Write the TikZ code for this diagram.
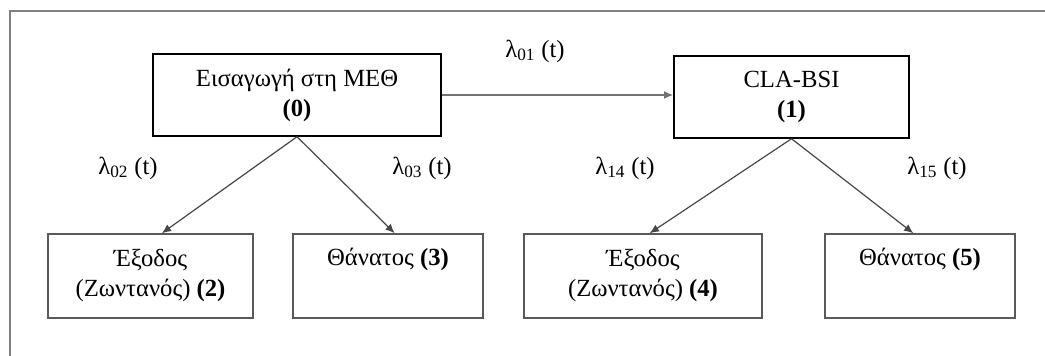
\documentclass[tikz,border=0pt]{standalone}
\usepackage{fontspec}
\setmainfont{Liberation Serif}
\usetikzlibrary{arrows.meta}
\begin{document}
\begin{tikzpicture}[x=0.75pt,y=-0.75pt,
  every node/.style={font=\fontsize{18.5}{22.5}\selectfont, inner sep=0pt},
  topbox/.style={draw=black, line width=1.1pt, align=center},
  lowbox/.style={draw=black!65, line width=1.1pt, align=center},
  conn/.style={draw=black!72, line width=0.9pt, -{Latex[length=7pt,width=6pt]}},
  hconn/.style={draw=black!55, line width=1.5pt, -{Latex[length=7pt,width=6pt]}},
  rate/.style={font=\fontsize{18.5}{20}\selectfont}]
\useasboundingbox (0,0) rectangle (1045,356);
\draw[black!50, line width=1.6pt] (10,356) -- (10,11) -- (1045,11);
\node[topbox, minimum width=216pt, minimum height=61.5pt] (b0) at (297,95) {Εισαγωγή στη ΜΕΘ\\\textbf{(0)}};
\node[topbox, minimum width=176pt, minimum height=61.5pt] (b1) at (791.5,97) {CLA-BSI\\\textbf{(1)}};
\node[lowbox, minimum width=153.75pt, minimum height=63pt] (b2) at (150.5,276) {Έξοδος\\(Ζωντανός) \textbf{(2)}};
\node[lowbox, minimum width=142.5pt, minimum height=63pt] (b3) at (388,276) {Θάνατος \textbf{(3)}\\\strut};
\node[lowbox, minimum width=178.5pt, minimum height=63pt] (b4) at (643,276) {Έξοδος\\(Ζωντανός) \textbf{(4)}};
\node[lowbox, minimum width=142.5pt, minimum height=63pt] (b5) at (920,276) {Θάνατος \textbf{(5)}\\\strut};
\draw[hconn] (b0.east) -- (b1.west |- b0.east);
\draw[conn] (b0.south) -- ([xshift=8.5pt]b2.north);
\draw[conn] (b0.south) -- ([xshift=5pt]b3.north);
\draw[conn] (b1.south) -- ([xshift=5pt]b4.north);
\draw[conn] (b1.south) -- ([xshift=-5pt]b5.north);
\node[rate] (l01) at (535,51) {λ\textsubscript{01} (t)};
\node[rate] (l02) at (128,168) {λ\textsubscript{02} (t)};
\node[rate] (l03) at (422,168) {λ\textsubscript{03} (t)};
\node[rate] (l14) at (625,168) {λ\textsubscript{14} (t)};
\node[rate] (l15) at (937,168) {λ\textsubscript{15} (t)};
\end{tikzpicture}
\end{document}
